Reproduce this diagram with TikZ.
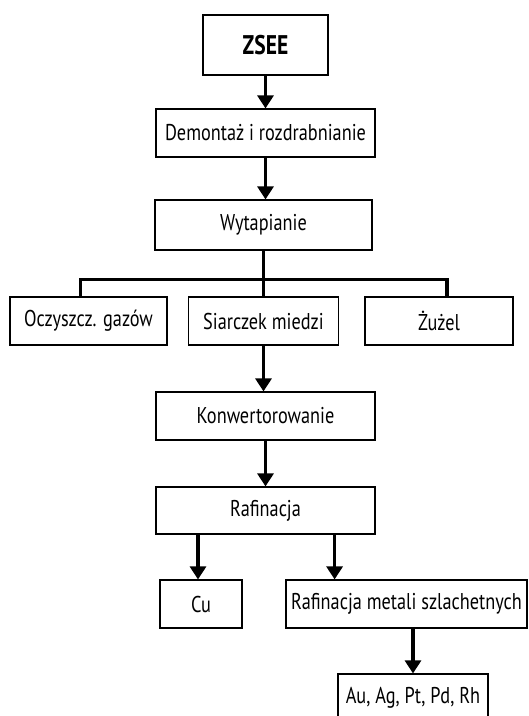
\documentclass[tikz,border=0pt]{standalone}
\usepackage{fontspec}
\setmainfont[FakeStretch=0.8]{PT Sans}
\usepackage{tikz}
\usetikzlibrary{arrows.meta, calc, positioning}
\tikzset{
    boxstyle/.style={draw=black, line width=1pt, fill=white, inner sep=2pt, align=center, font=\fontsize{19.5}{23}\selectfont},
    arrowstyle/.style={-{Triangle[length=0.39cm, width=0.48cm]}, line width=2.6pt},
    linestyle/.style={line width=2.6pt}
}

\begin{document}
\begin{tikzpicture}[x=0.03cm, y=-0.03cm]

        \useasboundingbox (0,0) rectangle (529,716);

        % ================= TOP: ZSEE, dismantling, smelting =================
        \node[boxstyle, minimum width=3.75cm, minimum height=1.8cm, font=\fontsize{23}{27}\selectfont\bfseries] (zsee) at (265.5,45) {ZSEE};
        \node[boxstyle, minimum width=6.57cm, minimum height=1.44cm] (dem) at (265.5,133) {Demonta\.z i rozdrabnianie};
        \node[boxstyle, minimum width=6.51cm, minimum height=1.5cm] (wyt) at (263.5,225) {Wytapianie};

        \draw[arrowstyle] (zsee.south) -- (zsee.south |- dem.north);
        \draw[arrowstyle] (dem.south) -- (dem.south |- wyt.north);

        % ================= MIDDLE ROW: products of smelting =================
        \node[boxstyle, minimum width=4.71cm, minimum height=1.44cm] (ocz) at (88.5,321) {Oczyszcz. gaz\'ow};
        \node[boxstyle, minimum width=4.5cm, minimum height=1.44cm] (sia) at (263.5,321) {Siarczek miedzi};
        \node[boxstyle, minimum width=4.44cm, minimum height=1.44cm] (zuz) at (439,321) {\.Zu\.zel};

        % Branch line
        \path (wyt.south) ++(0,29) coordinate (branch);
        \draw[linestyle] (wyt.south) -- (branch);
        \draw[linestyle] ([xshift=-0.25cm]ocz.north) |- (branch) -| ([xshift=0.24cm]zuz.north);
        \draw[linestyle] (branch) -- (branch |- sia.north);

        % ================= LOWER: converting and refining =================
        \node[boxstyle, minimum width=6.57cm, minimum height=1.44cm] (kon) at (265.5,416) {Konwertorowanie};
        \node[boxstyle, minimum width=6.57cm, minimum height=1.41cm] (raf) at (265.5,510.5) {Rafinacja};

        \draw[arrowstyle] (sia.south) -- (sia.south |- kon.north);
        \draw[arrowstyle] (kon.south) -- (kon.south |- raf.north);

        % ================= BOTTOM: Cu and noble metals =================
        \node[boxstyle, minimum width=2.46cm, minimum height=1.44cm] (cu) at (201,604) {Cu};
        \node[boxstyle, minimum width=7.23cm, minimum height=1.44cm] (rms) at (406.5,604) {Rafinacja metali szlachetnych};
        \node[boxstyle, minimum width=4.5cm, minimum height=1.44cm] (au) at (413,698) {Au, Ag, Pt, Pd, Rh};

        \draw[arrowstyle] ([xshift=-0.09cm]raf.south -| cu.north) -- ([xshift=-0.09cm]cu.north);
        \draw[arrowstyle] ([xshift=-1.23cm]raf.south east) -- ([xshift=-1.23cm]raf.south east |- rms.north);
        \draw[arrowstyle] (rms.south -| au.north) -- (au.north);

\end{tikzpicture}
\end{document}
